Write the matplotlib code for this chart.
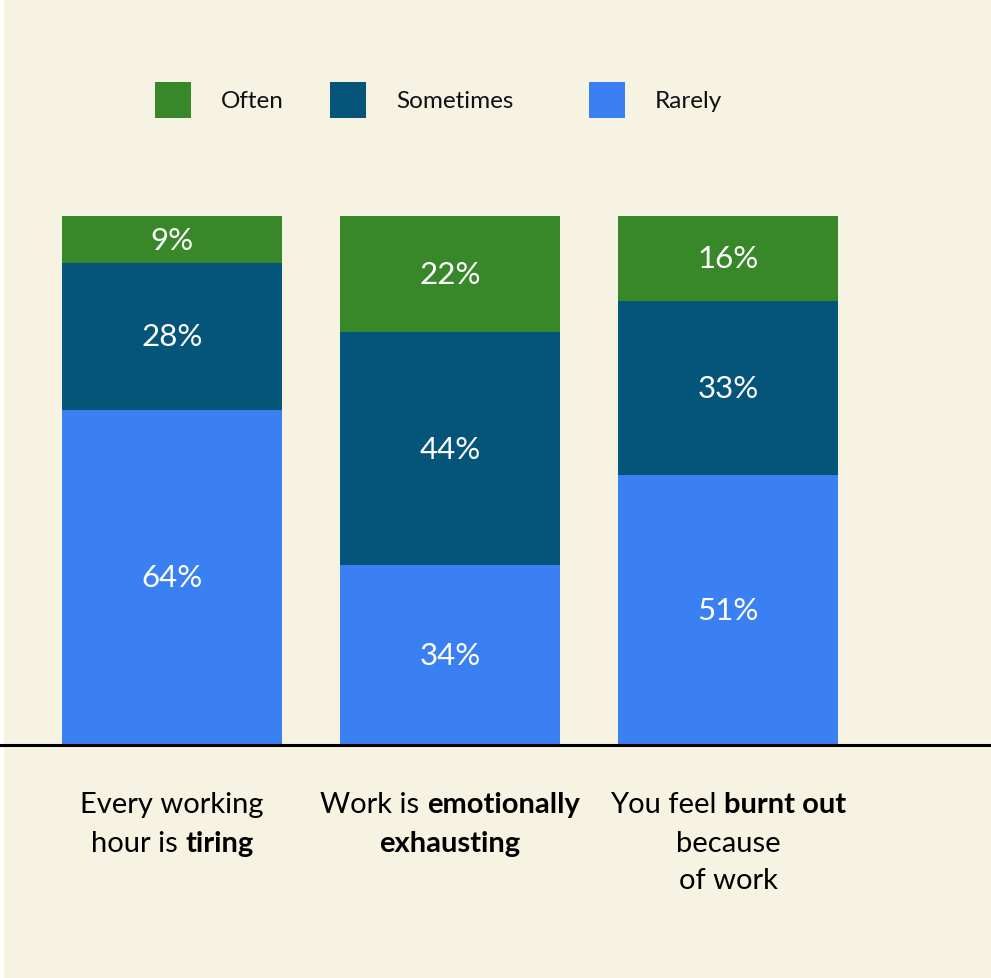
import matplotlib
matplotlib.use("Agg")
import matplotlib.pyplot as plt
from matplotlib.patches import Rectangle
import numpy as np

plt.rcParams['font.family'] = ['Lato', 'DejaVu Sans']

categories = ["Every working hour is tiring", "Work is emotionally exhausting",
              "You feel burnt out because of work"]
series = ["Often", "Sometimes", "Rarely"]
often = [9, 22, 16]
sometimes = [28, 44, 33]
rarely = [64, 34, 51]
colors = {"Often": "#38882A", "Sometimes": "#05557A", "Rarely": "#3A80F2"}
bg = "#F6F3E3"

# category label lines: list of (text, bold) segments per line
cat_lines = [
    [[("Every working", False)], [("hour is ", False), ("tiring", True)]],
    [[("Work is ", False), ("emotionally", True)], [("exhausting", True)]],
    [[("You feel ", False), ("burnt out", True)], [("because", False)], [("of work", False)]],
]

W, H = 991, 979
fig = plt.figure(figsize=(W / 100, H / 100), dpi=100, facecolor=bg)
fig.patches.append(Rectangle((0, 0), 4 / W, 1, transform=fig.transFigure,
                             facecolor="white", edgecolor="none", zorder=-1))

ax = fig.add_axes([0, (H - 745.5) / H, 1, 528.5 / H])
ax.set_facecolor(bg)
ax.patch.set_alpha(0)

x = np.arange(len(categories))
data = {"Often": np.array(often, float), "Sometimes": np.array(sometimes, float),
        "Rarely": np.array(rarely, float)}
total = data["Often"] + data["Sometimes"] + data["Rarely"]
bw = 220 / 278
bottom = np.zeros(len(x))
for s in ["Rarely", "Sometimes", "Often"]:
    h = data[s] / total * 100
    ax.bar(x, h, bottom=bottom, width=bw, color=colors[s], edgecolor="none", zorder=2)
    for xi, b, hh, v in zip(x, bottom, h, data[s]):
        ax.text(xi, b + hh / 2, f"{int(v)}%", ha="center", va="center",
                color="white", fontsize=22.5, zorder=3)
    bottom += h

ax.set_xlim(-172 / 278, (W - 172) / 278)
ax.set_ylim(0, 100)
for sp in ["top", "right", "left"]:
    ax.spines[sp].set_visible(False)
ax.spines["bottom"].set_linewidth(2.2)
ax.spines["bottom"].set_color("black")
ax.spines["bottom"].set_zorder(4)
ax.set_xticks([])
ax.set_yticks([])

# legend
leg_items = [("Often", 155, 221), ("Sometimes", 330, 396), ("Rarely", 589, 655)]
for name, sx, tx in leg_items:
    fig.patches.append(Rectangle((sx / W, (H - 119) / H), 36 / W, 36 / H,
                                 transform=fig.transFigure, facecolor=colors[name],
                                 edgecolor="none"))
    fig.text(tx / W, (H - 101) / H, name, ha="left", va="center", fontsize=17.5, color="#111111")

# category labels with mixed bold
fig.canvas.draw()
renderer = fig.canvas.get_renderer()
line_y = [805, 844, 881]
centers = [172, 450, 728]
for ci, lines in enumerate(cat_lines):
    for li, segs in enumerate(lines):
        texts = []
        widths = []
        for s, b in segs:
            t = fig.text(0, (H - line_y[li]) / H, s, ha="left", va="center", fontsize=21,
                         fontweight="bold" if b else "normal", color="black")
            texts.append(t)
            widths.append(t.get_window_extent(renderer).width)
        total_w = sum(widths)
        start = centers[ci] - total_w / 2
        for t, w in zip(texts, widths):
            t.set_x(start / W)
            start += w

fig.savefig("out.png", dpi=100, facecolor=bg)
